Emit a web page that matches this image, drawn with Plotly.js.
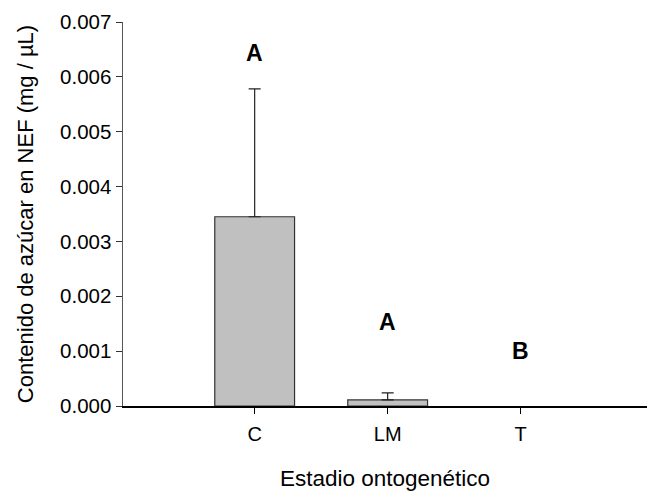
<!DOCTYPE html>
<html>
<head>
<meta charset="utf-8">
<script src="https://cdn.plot.ly/plotly-3.0.1.min.js"></script>
<style>html,body{margin:0;padding:0;background:#fff;}#chart{width:647px;height:491px;}</style>
</head>
<body>
<div id="chart"></div>
<script>
const categories = ["C", "LM", "T"];
const means = [0.00345, 0.00011, 0.0];
const errors = [0.00233, 0.00013, 0.0];
const letters = ["A", "A", "B"];
const letterY = [0.00643, 0.00153, 0.00100];
const yTicks = [0, 0.001, 0.002, 0.003, 0.004, 0.005, 0.006, 0.007];

const barTrace = {
  type: "bar",
  x: categories,
  y: means,
  width: 0.6,
  marker: {color: "#c0c0c0", line: {color: "#333333", width: means.map(v => v > 0 ? 1.2 : 0)}},
  hoverinfo: "skip"
};

// error bars only where there is a non-zero error
const idx = errors.map((e, i) => i).filter(i => errors[i] > 0);
const errTrace = {
  type: "scatter", mode: "markers",
  x: idx.map(i => categories[i]),
  y: idx.map(i => means[i]),
  marker: {size: 1, color: "rgba(0,0,0,0)"},
  error_y: {type: "data", array: idx.map(i => errors[i]), arrayminus: idx.map(() => 0), symmetric: false,
            color: "#222222", thickness: 1.2, width: 6, visible: true},
  hoverinfo: "skip"
};

const annotations = categories.map((c, i) => ({
  x: c, y: letterY[i], xref: "x", yref: "y", text: "<b>" + letters[i] + "</b>", showarrow: false,
  font: {family: "Liberation Sans, Arial, sans-serif", size: 23, color: "#000"},
  xanchor: "center", yanchor: "middle"
}));

const layout = {
  width: 647, height: 491,
  margin: {l: 123, r: 0, t: 22, b: 85},
  paper_bgcolor: "#fff", plot_bgcolor: "#fff",
  showlegend: false,
  font: {family: "Liberation Sans, Arial, sans-serif", color: "#000"},
  xaxis: {
    type: "category", range: [-0.99, 2.95],
    showline: true, linecolor: "#000", linewidth: 2,
    ticks: "outside", ticklen: 6, tickcolor: "#000", tickwidth: 1,
    ticklabelstandoff: 3,
    showgrid: false, zeroline: false,
    tickfont: {size: 20},
    title: {text: "Estadio ontogenético", font: {size: 22.5}, standoff: 30}
  },
  yaxis: {
    range: [0, 0.007],
    tickvals: yTicks, tickformat: ".3f",
    showline: true, linecolor: "#555", linewidth: 1.5,
    ticks: "outside", ticklen: 6, tickcolor: "#333", tickwidth: 1,
    showgrid: false, zeroline: false,
    tickfont: {size: 20.5},
    title: {text: "Contenido de azúcar en NEF (mg / µL)", font: {size: 22}, standoff: 20}
  },
  annotations: annotations
};

Plotly.newPlot("chart", [barTrace, errTrace], layout, {displayModeBar: false, staticPlot: true});
</script>
</body>
</html>
